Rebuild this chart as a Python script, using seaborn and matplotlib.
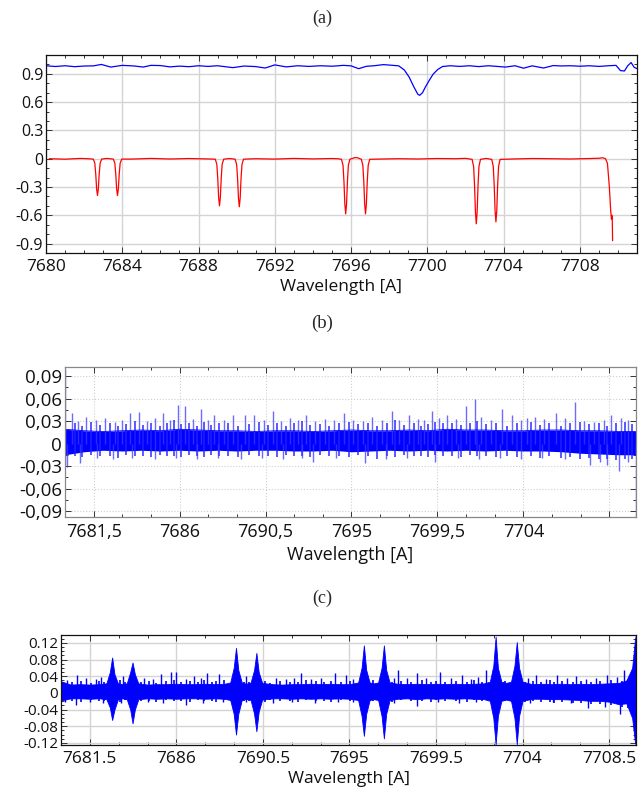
import matplotlib
matplotlib.use("Agg")
import matplotlib.pyplot as plt
from matplotlib.ticker import MultipleLocator
import numpy as np
import pandas as pd
import seaborn as sns

# ---- panel (a): spectra ----
blue_x = [7680.05, 7680.5, 7681.0, 7681.5, 7682.0, 7682.5, 7682.9, 7683.4, 7684.0, 7684.6,
          7685.1, 7685.5, 7686.0, 7686.5, 7687.0, 7687.5, 7688.0, 7688.5, 7689.0, 7689.8,
          7690.4, 7691.0, 7691.5, 7692.0, 7692.6, 7693.2, 7693.8, 7694.4, 7695.0, 7695.6,
          7696.0, 7696.4, 7696.8, 7697.2, 7697.7, 7698.2, 7698.5, 7698.8, 7699.05, 7699.3,
          7699.5, 7699.6, 7699.75, 7699.9, 7700.1, 7700.3, 7700.54, 7700.8, 7701.2, 7701.7,
          7702.2, 7702.7, 7703.2, 7703.6, 7704.1, 7704.6, 7705.05, 7705.5, 7706.1, 7706.6,
          7707.0, 7707.5, 7708.0, 7708.5, 7709.0, 7709.5, 7709.9, 7710.13, 7710.34, 7710.51,
          7710.69, 7710.85, 7711.0]
blue_y = [0.985, 0.978, 0.986, 0.976, 0.983, 0.985, 1.0, 0.972, 0.99, 0.984,
          0.972, 0.99, 0.988, 0.974, 0.982, 0.976, 0.986, 0.979, 0.986, 0.966,
          0.983, 0.977, 0.962, 0.995, 0.974, 0.986, 0.979, 0.986, 0.981, 0.99,
          0.985, 0.955, 0.98, 0.986, 0.998, 0.99, 0.985, 0.94, 0.865, 0.76,
          0.685, 0.672, 0.70, 0.76, 0.83, 0.895, 0.945, 0.978, 0.986, 0.979,
          0.986, 0.977, 0.986, 0.98, 0.972, 0.986, 0.96, 0.985, 0.962, 0.988,
          0.984, 0.986, 0.981, 0.986, 0.979, 0.986, 0.99, 0.935, 0.93, 0.985,
          1.02, 0.97, 0.955]

red_base_x = [7680.17, 7681.0, 7681.8, 7682.2, 7683.2, 7684.5, 7685.5, 7686.5, 7687.5, 7688.4,
              7689.62, 7691.0, 7692.0, 7693.0, 7694.0, 7695.0, 7695.3, 7696.2, 7696.35, 7697.5,
              7698.5, 7699.5, 7700.5, 7701.5, 7702.0, 7703.08, 7704.5, 7705.5, 7706.5, 7707.5,
              7708.5, 7709.0, 7709.2, 7709.35]
red_base_y = [0.0, -0.005, 0.003, 0.0, 0.003, -0.004, 0.003, -0.003, 0.002, -0.002,
              0.002, 0.0, -0.004, 0.003, -0.002, 0.002, 0.0, 0.012, 0.01, -0.004,
              0.0, -0.003, 0.002, 0.0, 0.004, 0.003, -0.003, 0.002, 0.0, -0.003,
              0.002, 0.005, 0.01, 0.0]
red_dip_x = [7682.48, 7682.56, 7682.61, 7682.655, 7682.7, 7682.745, 7682.79, 7682.84, 7682.92,
             7683.53, 7683.61, 7683.66, 7683.705, 7683.75, 7683.795, 7683.84, 7683.89, 7683.97,
             7688.88, 7688.96, 7689.01, 7689.055, 7689.1, 7689.145, 7689.19, 7689.24, 7689.32,
             7689.92, 7690.0, 7690.05, 7690.095, 7690.14, 7690.185, 7690.23, 7690.28, 7690.36,
             7695.50, 7695.58, 7695.63, 7695.675, 7695.72, 7695.765, 7695.81, 7695.86, 7695.94,
             7696.54, 7696.62, 7696.67, 7696.715, 7696.76, 7696.805, 7696.85, 7696.90, 7696.98,
             7702.35, 7702.43, 7702.48, 7702.525, 7702.57, 7702.615, 7702.66, 7702.71, 7702.79,
             7703.38, 7703.46, 7703.51, 7703.555, 7703.6, 7703.645, 7703.69, 7703.74, 7703.82,
             7709.45, 7709.55, 7709.62, 7709.66, 7709.68, 7709.70, 7709.72]
red_dip_y = [-0.004, -0.047, -0.164, -0.32, -0.39, -0.32, -0.164, -0.047, -0.004,
             -0.004, -0.047, -0.164, -0.32, -0.39, -0.32, -0.164, -0.047, -0.004,
             -0.005, -0.06, -0.21, -0.41, -0.50, -0.41, -0.21, -0.06, -0.005,
             -0.005, -0.061, -0.214, -0.418, -0.51, -0.418, -0.214, -0.061, -0.005,
             -0.006, -0.07, -0.246, -0.48, -0.585, -0.48, -0.246, -0.07, -0.006,
             -0.006, -0.07, -0.246, -0.48, -0.585, -0.48, -0.246, -0.07, -0.006,
             -0.007, -0.083, -0.29, -0.566, -0.69, -0.566, -0.29, -0.083, -0.007,
             -0.007, -0.08, -0.281, -0.55, -0.67, -0.55, -0.281, -0.08, -0.007,
             -0.05, -0.3, -0.55, -0.64, -0.6, -0.62, -0.87]

a_xticks = [7680, 7684, 7688, 7692, 7696, 7700, 7704, 7708]
a_yticks = [-0.9, -0.6, -0.3, 0, 0.3, 0.6, 0.9]
a_ylabels = ["-0.9", "-0.6", "-0.3", "0", "0.3", "0.6", "0.9"]

# ---- panel (b): residual noise ----
b_x = [7680, 7681, 7682, 7683, 7684, 7685, 7686, 7687, 7688, 7689, 7690,
       7691, 7692, 7693, 7694, 7695, 7696, 7697, 7698, 7699, 7700,
       7701, 7702, 7703, 7704, 7705, 7706, 7707, 7708, 7709, 7710]
b_hi = [0.019, 0.017, 0.016, 0.017, 0.018, 0.017, 0.019, 0.018, 0.017, 0.017, 0.016,
        0.017, 0.017, 0.016, 0.017, 0.018, 0.017, 0.017, 0.018, 0.017, 0.019,
        0.018, 0.018, 0.017, 0.017, 0.018, 0.018, 0.017, 0.017, 0.016, 0.016]
b_lo = [-0.015, -0.011, -0.009, -0.01, -0.009, -0.01, -0.009, -0.01, -0.009, -0.01, -0.009,
        -0.009, -0.01, -0.01, -0.009, -0.011, -0.01, -0.009, -0.01, -0.009, -0.01,
        -0.009, -0.01, -0.009, -0.01, -0.01, -0.011, -0.013, -0.014, -0.015, -0.015]
b_up_x = [7680.02, 7680.35, 7680.7, 7681.1, 7681.6, 7682.1, 7682.6, 7683.0, 7683.4, 7683.9,
          7684.3, 7684.7, 7685.15, 7685.5, 7685.9, 7686.3, 7686.7, 7687.1, 7687.5, 7687.8,
          7688.3, 7688.8, 7689.4, 7689.9, 7690.4, 7690.9, 7691.3, 7691.8, 7692.2, 7692.6,
          7693.1, 7693.6, 7694.1, 7694.6, 7695.1, 7695.6, 7696.1, 7696.6, 7697.1, 7697.5,
          7698.0, 7698.5, 7698.8, 7699.2, 7699.6, 7700.0, 7700.5, 7701.0, 7701.45, 7701.8,
          7702.3, 7702.9, 7703.4, 7703.9, 7704.2, 7704.6, 7705.1, 7705.7, 7706.2, 7706.7,
          7707.2, 7707.7, 7708.2, 7708.6, 7709.1, 7709.5]
b_up_y = [0.10, 0.041, 0.03, 0.036, 0.031, 0.034, 0.029, 0.032, 0.041, 0.042,
          0.03, 0.034, 0.041, 0.032, 0.052, 0.050, 0.033, 0.046, 0.031, 0.038,
          0.032, 0.038, 0.038, 0.038, 0.031, 0.043, 0.03, 0.034, 0.031, 0.038,
          0.03, 0.033, 0.031, 0.041, 0.032, 0.03, 0.036, 0.032, 0.043, 0.031,
          0.038, 0.033, 0.031, 0.043, 0.034, 0.038, 0.033, 0.050, 0.059, 0.035,
          0.032, 0.046, 0.038, 0.032, 0.034, 0.036, 0.033, 0.041, 0.034, 0.055,
          0.030, 0.029, 0.031, 0.038, 0.034, 0.031]
b_dn_x = [7680.02, 7680.1, 7680.8, 7681.7, 7682.5, 7683.5, 7684.7, 7685.8, 7686.9, 7688.0,
          7689.2, 7690.3, 7691.4, 7692.4, 7693.0, 7694.2, 7695.7, 7696.8, 7697.9, 7699.4,
          7700.6, 7701.7, 7702.8, 7703.9, 7705.0, 7706.2, 7707.5, 7708.0, 7708.4, 7709.0,
          7709.5, 7709.88]
b_dn_y = [-0.031, -0.031, -0.026, -0.019, -0.02, -0.019, -0.021, -0.019, -0.02, -0.019,
          -0.02, -0.019, -0.02, -0.019, -0.024, -0.019, -0.026, -0.02, -0.019, -0.024,
          -0.019, -0.02, -0.019, -0.02, -0.019, -0.02, -0.028, -0.025, -0.028, -0.036,
          -0.025, -0.1]
# short ragged strokes at the band edges
b_fine_x = [7680.5, 7680.9, 7681.35, 7681.85, 7682.35, 7682.8, 7683.2, 7683.65, 7684.1, 7684.5,
            7684.95, 7685.35, 7685.7, 7686.1, 7686.5, 7686.9, 7687.3, 7687.65, 7688.05, 7688.55,
            7689.05, 7689.65, 7690.15, 7690.65, 7691.1, 7691.55, 7692.0, 7692.4, 7692.85, 7693.35,
            7693.85, 7694.35, 7694.85, 7695.35, 7695.85, 7696.35, 7696.85, 7697.3, 7697.75, 7698.25,
            7698.65, 7699.0, 7699.4, 7699.8, 7700.25, 7700.75, 7701.2, 7701.6, 7702.05, 7702.55,
            7703.15, 7703.65, 7704.4, 7704.85, 7705.35, 7705.95, 7706.45, 7706.95, 7707.45, 7707.95,
            7708.4, 7708.85, 7709.3, 7709.7]
b_fine_hi = [0.027, 0.024, 0.029, 0.025, 0.028, 0.023, 0.026, 0.03, 0.025, 0.027,
             0.024, 0.028, 0.031, 0.026, 0.028, 0.023, 0.029, 0.025, 0.027, 0.028,
             0.024, 0.026, 0.029, 0.025, 0.027, 0.024, 0.028, 0.03, 0.025, 0.026,
             0.023, 0.027, 0.029, 0.026, 0.028, 0.024, 0.027, 0.031, 0.025, 0.028,
             0.024, 0.026, 0.029, 0.027, 0.028, 0.025, 0.027, 0.03, 0.026, 0.028,
             0.024, 0.027, 0.029, 0.025, 0.028, 0.024, 0.027, 0.029, 0.026, 0.028,
             0.024, 0.027, 0.029, 0.026]
b_fine_lo = [-0.016, -0.018, -0.015, -0.017, -0.016, -0.019, -0.015, -0.017, -0.016, -0.018,
             -0.015, -0.017, -0.016, -0.018, -0.015, -0.016, -0.018, -0.015, -0.017, -0.016,
             -0.018, -0.015, -0.017, -0.016, -0.018, -0.015, -0.017, -0.016, -0.018, -0.015,
             -0.017, -0.016, -0.018, -0.015, -0.017, -0.02, -0.016, -0.018, -0.015, -0.017,
             -0.016, -0.018, -0.015, -0.017, -0.016, -0.018, -0.015, -0.017, -0.016, -0.018,
             -0.016, -0.018, -0.017, -0.019, -0.017, -0.019, -0.018, -0.02, -0.019, -0.021,
             -0.02, -0.022, -0.021, -0.02]
b_xticks = [7681.5, 7686, 7690.5, 7695, 7699.5, 7704, 7708.5]
b_xlabels = ["7681,5", "7686", "7690,5", "7695", "7699,5", "7704", ""]
b_yticks = [-0.09, -0.06, -0.03, 0, 0.03, 0.06, 0.09]
b_ylabels = ["-0,09", "-0,06", "-0,03", "0", "0,03", "0,06", "0,09"]

# ---- panel (c): difference signal ----
c_x = [7680.0, 7680.5, 7681.0, 7681.5, 7682.0,
       7682.36, 7682.54, 7682.66, 7682.78, 7682.96,
       7683.2,
       7683.42, 7683.6, 7683.72, 7683.84, 7684.02,
       7684.5, 7685.0, 7685.5, 7686.0, 7686.5, 7687.0, 7687.5, 7688.0, 7688.5,
       7688.8, 7688.98, 7689.1, 7689.22, 7689.4,
       7689.63,
       7689.86, 7690.04, 7690.16, 7690.28, 7690.46,
       7691.0, 7691.5, 7692.0, 7692.5, 7693.0, 7693.5, 7694.0, 7694.5, 7695.0,
       7695.45, 7695.63, 7695.75, 7695.87, 7696.05,
       7696.27,
       7696.49, 7696.67, 7696.79, 7696.91, 7697.09,
       7697.5, 7698.0, 7698.5, 7699.0, 7699.5, 7700.0, 7700.5, 7701.0, 7701.5, 7702.0,
       7702.3, 7702.48, 7702.6, 7702.72, 7702.9,
       7703.15,
       7703.4, 7703.58, 7703.7, 7703.82, 7704.0,
       7704.5, 7705.0, 7705.5, 7706.0, 7706.5, 7707.0, 7707.5, 7708.0, 7708.5, 7709.0,
       7709.4, 7709.7, 7709.85, 7709.9]
c_hi = [0.028, 0.02, 0.021, 0.02, 0.021,
        0.023, 0.05, 0.085, 0.045, 0.023,
        0.021,
        0.023, 0.05, 0.073, 0.045, 0.023,
        0.02, 0.021, 0.021, 0.022, 0.021, 0.021, 0.022, 0.021, 0.022,
        0.025, 0.06, 0.108, 0.055, 0.025,
        0.022,
        0.025, 0.055, 0.096, 0.05, 0.024,
        0.021, 0.02, 0.021, 0.021, 0.022, 0.021, 0.022, 0.021, 0.021,
        0.025, 0.06, 0.114, 0.055, 0.025,
        0.023,
        0.025, 0.06, 0.114, 0.055, 0.025,
        0.022, 0.021, 0.022, 0.021, 0.022, 0.021, 0.022, 0.021, 0.022, 0.023,
        0.027, 0.065, 0.135, 0.06, 0.027,
        0.024,
        0.027, 0.065, 0.122, 0.06, 0.027,
        0.021, 0.022, 0.021, 0.022, 0.021, 0.022, 0.021, 0.022, 0.023, 0.024,
        0.03, 0.06, 0.13, 0.139]
c_lo = [-0.018, -0.013, -0.013, -0.014, -0.013,
        -0.015, -0.035, -0.065, -0.04, -0.015,
        -0.013,
        -0.015, -0.04, -0.073, -0.04, -0.015,
        -0.013, -0.014, -0.013, -0.014, -0.013, -0.013, -0.014, -0.013, -0.014,
        -0.017, -0.05, -0.10, -0.05, -0.017,
        -0.014,
        -0.017, -0.05, -0.092, -0.045, -0.016,
        -0.013, -0.013, -0.014, -0.013, -0.014, -0.013, -0.014, -0.013, -0.014,
        -0.017, -0.055, -0.103, -0.05, -0.017,
        -0.015,
        -0.017, -0.055, -0.109, -0.05, -0.017,
        -0.014, -0.013, -0.015, -0.013, -0.014, -0.013, -0.014, -0.013, -0.014, -0.015,
        -0.019, -0.06, -0.123, -0.055, -0.019,
        -0.016,
        -0.019, -0.06, -0.123, -0.055, -0.019,
        -0.014, -0.014, -0.015, -0.015, -0.016, -0.017, -0.019, -0.019, -0.021, -0.027,
        -0.025, -0.06, -0.12, -0.125]
c_up_x = [7680.3, 7680.85, 7681.3, 7681.8, 7682.1, 7683.2, 7684.3, 7684.8, 7685.2, 7685.7,
          7686.0, 7686.5, 7686.9, 7687.3, 7687.6, 7688.2, 7689.6, 7691.2, 7691.7, 7692.1,
          7692.5, 7693.0, 7693.5, 7694.24, 7694.8, 7695.2, 7697.3, 7697.5, 7698.0, 7698.5,
          7699.0, 7699.7, 7700.3, 7700.85, 7701.3, 7701.7, 7702.1, 7704.3, 7704.7, 7705.2,
          7705.8, 7706.3, 7706.8, 7707.3, 7707.8, 7708.4, 7708.9, 7709.3]
c_up_y = [0.032, 0.042, 0.035, 0.033, 0.038, 0.04, 0.035, 0.033, 0.045, 0.05,
          0.05, 0.034, 0.04, 0.035, 0.048, 0.045, 0.04, 0.036, 0.033, 0.035,
          0.047, 0.034, 0.036, 0.047, 0.042, 0.034, 0.036, 0.055, 0.035, 0.047,
          0.036, 0.05, 0.036, 0.042, 0.034, 0.038, 0.055, 0.035, 0.043, 0.034,
          0.042, 0.035, 0.04, 0.034, 0.036, 0.043, 0.038, 0.055]
c_dn_x = [7680.2, 7680.8, 7681.5, 7682.2, 7683.1, 7684.5, 7685.3, 7686.5, 7687.4, 7688.4,
          7689.6, 7691.0, 7692.0, 7693.2, 7694.4, 7695.2, 7697.3, 7698.5, 7699.6, 7700.7,
          7701.6, 7704.4, 7705.6, 7706.5, 7707.4, 7708.3, 7709.05]
c_dn_y = [-0.022, -0.03, -0.022, -0.024, -0.023, -0.022, -0.024, -0.03, -0.023, -0.022,
          -0.021, -0.023, -0.022, -0.024, -0.022, -0.021, -0.024, -0.031, -0.022, -0.023,
          -0.022, -0.023, -0.022, -0.024, -0.036, -0.033, -0.05]
c_fine_x = [7680.55, 7681.05, 7681.55, 7681.95, 7682.25, 7683.05, 7683.35, 7684.15, 7684.55, 7684.95,
            7685.45, 7685.85, 7686.25, 7686.7, 7687.1, 7687.45, 7687.85, 7688.05, 7688.45, 7689.5,
            7689.75, 7690.6, 7690.85, 7691.4, 7691.9, 7692.3, 7692.75, 7693.25, 7693.7, 7694.05,
            7694.55, 7695.05, 7696.2, 7697.2, 7697.7, 7698.2, 7698.75, 7699.25, 7699.5, 7699.95,
            7700.55, 7701.1, 7701.5, 7701.9, 7703.1, 7704.15, 7704.55, 7704.95, 7705.45, 7705.65,
            7706.05, 7706.6, 7707.05, 7707.55, 7708.05, 7708.6, 7709.15, 7709.5]
c_fine_hi = [0.027, 0.029, 0.025, 0.028, 0.026, 0.03, 0.027, 0.026, 0.029, 0.025,
             0.028, 0.03, 0.026, 0.029, 0.027, 0.031, 0.026, 0.028, 0.03, 0.027,
             0.026, 0.028, 0.025, 0.029, 0.027, 0.026, 0.03, 0.028, 0.026, 0.029,
             0.027, 0.028, 0.03, 0.027, 0.029, 0.026, 0.03, 0.027, 0.028, 0.026,
             0.029, 0.027, 0.03, 0.026, 0.028, 0.027, 0.029, 0.026, 0.03, 0.027,
             0.028, 0.026, 0.029, 0.027, 0.028, 0.03, 0.029, 0.031]
c_fine_lo = [-0.019, -0.021, -0.018, -0.02, -0.019, -0.021, -0.018, -0.02, -0.019, -0.021,
             -0.018, -0.02, -0.019, -0.021, -0.018, -0.02, -0.019, -0.021, -0.018, -0.02,
             -0.019, -0.021, -0.018, -0.02, -0.019, -0.021, -0.018, -0.02, -0.019, -0.021,
             -0.018, -0.02, -0.019, -0.021, -0.018, -0.02, -0.019, -0.021, -0.018, -0.02,
             -0.019, -0.021, -0.018, -0.02, -0.019, -0.021, -0.02, -0.022, -0.021, -0.023,
             -0.022, -0.024, -0.025, -0.027, -0.026, -0.03, -0.033, -0.035]
c_xticks = [7681.5, 7686, 7690.5, 7695, 7699.5, 7704, 7708.5]
c_xlabels = ["7681.5", "7686", "7690.5", "7695", "7699.5", "7704", "7708.5"]
c_yticks = [-0.12, -0.08, -0.04, 0, 0.04, 0.08, 0.12]
c_ylabels = ["-0.12", "-0.08", "-0.04", "0", "0.04", "0.08", "0.12"]

sns.set_theme(style="white")
plt.rcParams["font.family"] = ["Open Sans", "DejaVu Sans"]
plt.rcParams["axes.unicode_minus"] = False

fig = plt.figure(figsize=(6.44, 8.05), dpi=100)
W, H = 644, 805


def box(l, t, r, b):
    return [l / W, 1 - b / H, (r - l) / W, (b - t) / H]


def style(ax, spine_col, xminor, yminor, fs_x, fs_y):
    for s in ax.spines.values():
        s.set_color(spine_col)
        s.set_linewidth(0.9)
    ax.xaxis.set_minor_locator(MultipleLocator(xminor))
    ax.yaxis.set_minor_locator(MultipleLocator(yminor))
    ax.tick_params(which="both", direction="in", top=True, right=True,
                   bottom=True, left=True, color="#333333", width=0.7)
    ax.tick_params(which="major", length=4, pad=4)
    ax.tick_params(which="minor", length=2.2)
    ax.tick_params(axis="x", labelsize=fs_x, labelcolor="#111111")
    ax.tick_params(axis="y", labelsize=fs_y, labelcolor="#111111", pad=2)


serif = ["Liberation Serif", "DejaVu Serif"]

# panel (a)
ax1 = fig.add_axes(box(46, 55, 637, 253))
blue_df = pd.DataFrame({"x": blue_x, "y": blue_y})
red_df = pd.DataFrame({"x": red_base_x + red_dip_x, "y": red_base_y + red_dip_y})
sns.lineplot(data=blue_df, x="x", y="y", ax=ax1, color="#0000ff", lw=0.9, estimator=None)
sns.lineplot(data=red_df, x="x", y="y", ax=ax1, color="#ff0000", lw=0.9, estimator=None)
ax1.set_xlim(7680, 7711)
ax1.set_ylim(-1.0, 1.1)
ax1.set_xticks(a_xticks)
ax1.set_xticklabels([str(v) for v in a_xticks])
ax1.set_yticks(a_yticks)
ax1.set_yticklabels(a_ylabels)
ax1.grid(True, which="major", color="#d4d4d4", lw=1.0, ls="-")
style(ax1, "#111111", 1, 0.1, 12.5, 11.5)
ax1.set_xlabel("Wavelength [A]", fontsize=12.5, labelpad=3, color="#111111")
ax1.set_ylabel("")
fig.text(0.5, 1 - 18 / H, "(a)", ha="center", va="center", fontsize=13, family=serif)

# panel (b)
ax2 = fig.add_axes(box(65, 367, 636, 517))
ax2.fill_between(b_x, b_lo, b_hi, color="#0000ff", lw=0)
ax2.vlines(b_fine_x, b_fine_lo, b_fine_hi, color="#2020ff", lw=1.3, alpha=0.8)
ax2.vlines(b_up_x, 0, b_up_y, color="#3a3aff", lw=1.0, alpha=0.75)
ax2.vlines(b_dn_x, 0, b_dn_y, color="#3a3aff", lw=1.0, alpha=0.75)
sns.lineplot(x=b_x, y=b_hi, ax=ax2, color="#0000ff", lw=0.6, estimator=None)
ax2.set_xlim(7680, 7709.9)
ax2.set_ylim(-0.098, 0.102)
ax2.set_xticks(b_xticks)
ax2.set_xticklabels(b_xlabels)
ax2.set_yticks(b_yticks)
ax2.set_yticklabels(b_ylabels)
ax2.grid(True, which="major", color="#cfcfcf", lw=0.8, ls=":")
style(ax2, "#888888", 1.5, 0.015, 13, 13.5)
ax2.set_xlabel("Wavelength [A]", fontsize=13, labelpad=4, color="#111111")
fig.text(0.5, 1 - 323 / H, "(b)", ha="center", va="center", fontsize=13.5, family=serif)

# panel (c)
ax3 = fig.add_axes(box(61, 635, 636, 745))
ax3.fill_between(c_x, c_lo, c_hi, color="#0000ff", lw=0.6)
ax3.vlines(c_fine_x, c_fine_lo, c_fine_hi, color="#0000ff", lw=1.2)
ax3.vlines(c_up_x, 0, c_up_y, color="#0000ff", lw=1.0)
ax3.vlines(c_dn_x, 0, c_dn_y, color="#0000ff", lw=1.0)
ax3.set_xlim(7680, 7709.9)
ax3.set_ylim(-0.125, 0.139)
ax3.set_xticks(c_xticks)
ax3.set_xticklabels(c_xlabels)
ax3.set_yticks(c_yticks)
ax3.set_yticklabels(c_ylabels)
ax3.grid(True, which="major", color="#d4d4d4", lw=1.0, ls="-")
style(ax3, "#111111", 1.5, 0.01, 12.5, 11)
ax3.set_xlabel("Wavelength [A]", fontsize=12.5, labelpad=3, color="#111111")
fig.text(0.5, 1 - 598 / H, "(c)", ha="center", va="center", fontsize=13, family=serif)

fig.savefig("out.png", dpi=100)
